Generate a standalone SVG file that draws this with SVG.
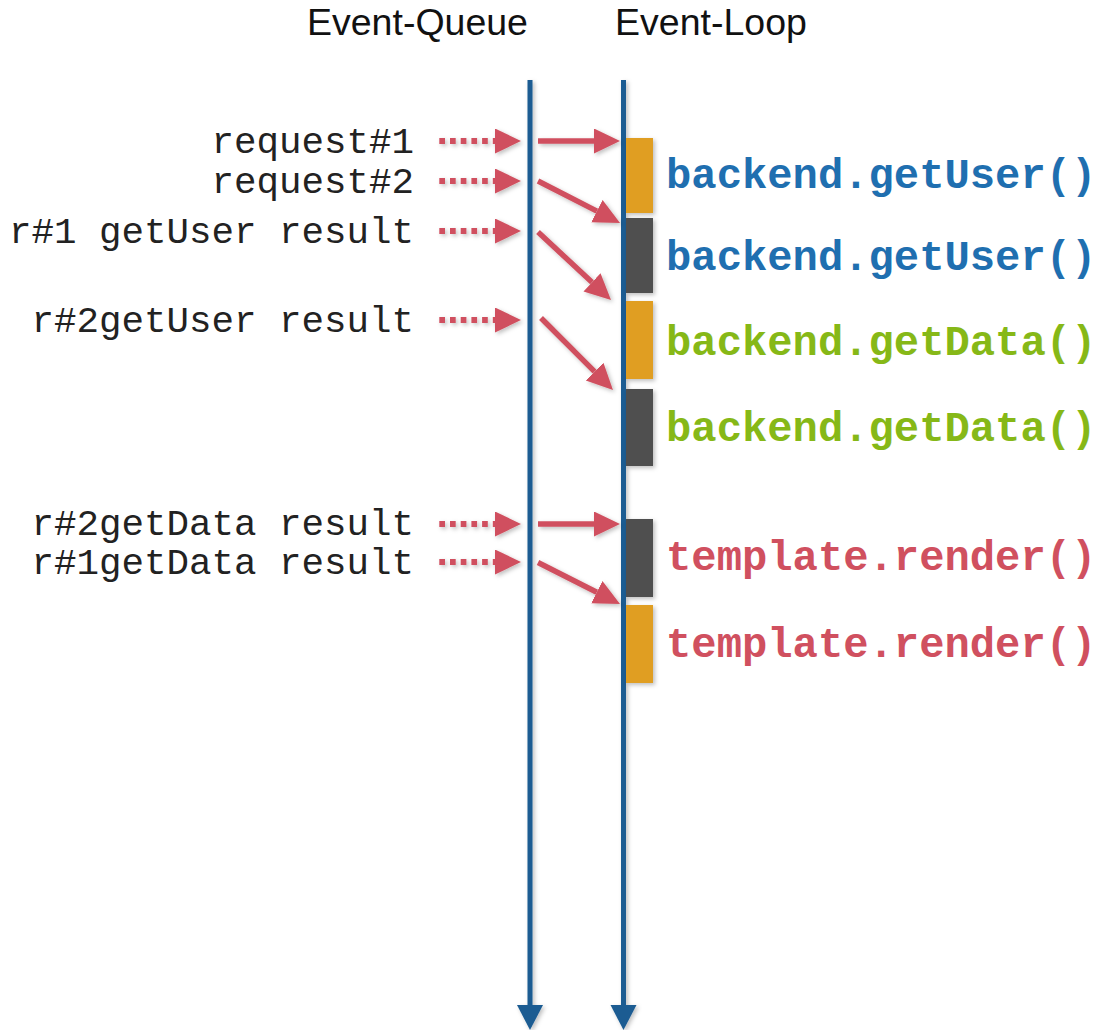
<svg xmlns="http://www.w3.org/2000/svg" width="1099" height="1030" viewBox="0 0 1099 1030">
<style>
.hdr{font-family:"Liberation Sans",Arial,sans-serif;font-size:37.5px;fill:#111;text-anchor:middle}
.ev{font-family:"Liberation Mono","Courier New",monospace;font-size:37.5px;fill:#222;text-anchor:end}
.fn{font-family:"Liberation Mono","Courier New",monospace;font-size:42.2px;font-weight:bold}
.blue{fill:#1f6fb0}.green{fill:#86b817}.red{fill:#d0505f}
.axis{stroke:#1b5b92;stroke-width:5;fill:none}
.sol{stroke:#d0505f;stroke-width:5.5;fill:none}
.dot{stroke:#d0505f;stroke-width:6;fill:none;stroke-dasharray:5.7 5}
.orange{fill:#e09e20}.grey{fill:#505050}
</style>
<defs>
<filter id="sh" x="-20%" y="-20%" width="140%" height="140%">
<feDropShadow dx="2" dy="2" stdDeviation="2" flood-color="#000" flood-opacity="0.25"/>
</filter>
<marker id="ah" markerUnits="userSpaceOnUse" markerWidth="26" markerHeight="26" viewBox="0 0 26 26" refX="0" refY="12.5" orient="auto">
<path d="M0,0 L26,12.5 L0,25 z" fill="#d0505f"/>
</marker>
<marker id="bh" markerUnits="userSpaceOnUse" markerWidth="26" markerHeight="27" viewBox="0 0 25 27" refX="0" refY="13" orient="auto">
<path d="M0,0 L25,13 L0,26 z" fill="#1b5b92"/>
</marker>
</defs>
<rect width="1099" height="1030" fill="#fff"/>
<g id="headers">
<text class="hdr" x="417.5" y="35">Event-Queue</text>
<text class="hdr" x="711" y="35">Event-Loop</text>
</g>
<g id="timelines" filter="url(#sh)">
<path class="axis" d="M530,80 V1005" marker-end="url(#bh)"/>
<path class="axis" d="M623.5,80 V1005" marker-end="url(#bh)"/>
</g>
<g id="blocks" filter="url(#sh)">
<rect id="b1" class="orange" x="626" y="138" width="27" height="75"/>
<rect id="b2" class="grey" x="626" y="218" width="27" height="75"/>
<rect id="b3" class="orange" x="626" y="301" width="27" height="78"/>
<rect id="b4" class="grey" x="626" y="389" width="27" height="77"/>
<rect id="b5" class="grey" x="626" y="519" width="27" height="78"/>
<rect id="b6" class="orange" x="626" y="605" width="27" height="78"/>
</g>
<g id="events">
<text class="ev" x="414" y="153">request#1</text>
<text class="ev" x="414" y="193">request#2</text>
<text class="ev" x="414" y="243">r#1 getUser result</text>
<text class="ev" x="414" y="332">r#2getUser result</text>
<text class="ev" x="414" y="535">r#2getData result</text>
<text class="ev" x="414" y="574">r#1getData result</text>
</g>
<g id="labels">
<text class="fn blue" x="666" y="188">backend.getUser()</text>
<text class="fn blue" x="666" y="270">backend.getUser()</text>
<text class="fn green" x="666" y="355">backend.getData()</text>
<text class="fn green" x="666" y="441">backend.getData()</text>
<text class="fn red" x="666" y="570">template.render()</text>
<text class="fn red" x="666" y="657">template.render()</text>
</g>
<g id="connectors" filter="url(#sh)">
<path class="dot" d="M439.3,141 H495" marker-end="url(#ah)"/>
<path class="dot" d="M439.3,181 H495" marker-end="url(#ah)"/>
<path class="dot" d="M439.3,231 H495" marker-end="url(#ah)"/>
<path class="dot" d="M439.3,320 H495" marker-end="url(#ah)"/>
<path class="dot" d="M439.3,524 H495" marker-end="url(#ah)"/>
<path class="dot" d="M439.3,562 H495" marker-end="url(#ah)"/>
<path class="sol" d="M538,141 L594,141" marker-end="url(#ah)"/>
<path class="sol" d="M538,181 L596.9,211.1" marker-end="url(#ah)"/>
<path class="sol" d="M538,232 L592,282.3" marker-end="url(#ah)"/>
<path class="sol" d="M541,318 L594.6,371.6" marker-end="url(#ah)"/>
<path class="sol" d="M538,524 L594,524" marker-end="url(#ah)"/>
<path class="sol" d="M538,562.5 L596.8,592.2" marker-end="url(#ah)"/>
</g>
</svg>
